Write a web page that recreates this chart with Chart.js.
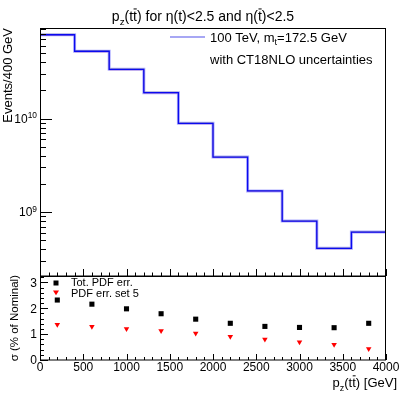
<!DOCTYPE html>
<html>
<head>
<meta charset="utf-8">
<title>pz(tt) for eta cuts</title>
<script src="https://cdn.jsdelivr.net/npm/chart.js@4.4.1/dist/chart.umd.min.js"></script>
<style>
  html, body { margin: 0; padding: 0; background: #fff; }
  #wrap { position: relative; width: 407px; height: 395px; overflow: hidden; }
  #top, #bot { position: absolute; left: 0; }
  #top { top: 0; }
  #bot { top: 270px; }
</style>
</head>
<body>
<div id="wrap">
  <canvas id="top" width="407" height="280"></canvas>
  <canvas id="bot" width="407" height="125"></canvas>
</div>
<script>
// ---- data ----
const binEdges = [0, 400, 800, 1200, 1600, 2000, 2400, 2800, 3200, 3600, 4000];
const binCenters = [200, 600, 1000, 1400, 1800, 2200, 2600, 3000, 3400, 3800];
// events / 400 GeV, nominal
const nominal = [7.87e10, 5.24e10, 3.36e10, 1.89e10, 8.89e9, 3.87e9, 1.68e9, 8.01e8, 4.09e8, 6.11e8];
// faint variation lines just above / below the nominal one
const upperVar = [7.99e10, 5.32e10, 3.41e10, 1.92e10, 9.02e9, 3.93e9, 1.70e9, 8.11e8, 4.14e8, 6.19e8];
const lowerVar = [7.74e10, 5.15e10, 3.31e10, 1.86e10, 8.77e9, 3.82e9, 1.66e9, 7.91e8, 4.04e8, 6.03e8];
// lower pad, % of nominal
const totPdfErr = [2.32, 2.16, 1.98, 1.79, 1.58, 1.42, 1.30, 1.26, 1.25, 1.42];
const pdfSet5Err = [1.37, 1.29, 1.21, 1.13, 1.03, 0.91, 0.80, 0.69, 0.60, 0.43];
// axes
const xTicks = [0, 500, 1000, 1500, 2000, 2500, 3000, 3500, 4000];
const logTicks = [1e9, 1e10];
const ratioTicks = [0, 1, 2, 3];

const FONT = '"Liberation Sans", Arial, Helvetica, sans-serif';

// ---- small helpers ----
function stepPoints(vals) {
    return binEdges.map((x, i) => ({ x: x, y: vals[Math.min(i, vals.length - 1)] }));
}

// text with sub/superscripts and overbars, ROOT-latex style
function drawRich(ctx, parts, x, y, size, align) {
    const fontOf = (p) => `${(p.sub || p.sup) ? size * 0.7 : size}px ${FONT}`;
    const items = parts.map((p) => (typeof p === 'string' ? { t: p } : p));
    let total = 0;
    items.forEach((p) => { ctx.font = fontOf(p); p.w = ctx.measureText(p.t).width; total += p.w; });
    let cx = align === 'center' ? x - total / 2 : align === 'right' ? x - total : x;
    ctx.textAlign = 'left';
    ctx.textBaseline = 'alphabetic';
    items.forEach((p) => {
        ctx.font = fontOf(p);
        const dy = p.sub ? size * 0.28 : p.sup ? -size * 0.38 : 0;
        ctx.fillText(p.t, cx, y + dy);
        if (p.bar) {
            ctx.beginPath();
            ctx.lineWidth = 1;
            ctx.moveTo(cx + 0.5, y - size * 0.86);
            ctx.lineTo(cx + p.w - 0.2, y - size * 0.86);
            ctx.stroke();
        }
        cx += p.w;
    });
}

function minorX() {
    const out = [];
    for (let i = 0; i < xTicks.length - 1; i++) {
        const step = (xTicks[i + 1] - xTicks[i]) / 5;
        for (let k = 1; k < 5; k++) out.push(xTicks[i] + k * step);
    }
    return out;
}

function hTick(ctx, px, y0, len) {
    ctx.beginPath();
    ctx.moveTo(Math.round(px) + 0.5, y0);
    ctx.lineTo(Math.round(px) + 0.5, y0 - len);
    ctx.stroke();
}
function vTick(ctx, py, x0, len) {
    ctx.beginPath();
    ctx.moveTo(x0, Math.round(py) + 0.5);
    ctx.lineTo(x0 + len, Math.round(py) + 0.5);
    ctx.stroke();
}

// ---- upper pad decorations ----
const topDecor = {
    id: 'topDecor',
    afterDraw(chart) {
        const { ctx, chartArea: a, scales: { x, y } } = chart;
        ctx.save();
        ctx.strokeStyle = '#000';
        ctx.fillStyle = '#000';
        ctx.lineWidth = 1;

        // frame
        ctx.strokeRect(a.left + 0.5, a.top + 0.5, a.right - a.left - 1, a.bottom - a.top - 0.5);

        // x ticks (no labels on this pad)
        const yb = a.bottom;
        xTicks.forEach((v) => hTick(ctx, x.getPixelForValue(v), yb, 7));
        minorX().forEach((v) => hTick(ctx, x.getPixelForValue(v), yb, 3.5));

        // log y ticks
        for (let e = 8; e <= 10; e++) {
            for (let m = 1; m <= 9; m++) {
                const v = m * Math.pow(10, e);
                if (v < y.min || v > y.max) continue;
                vTick(ctx, y.getPixelForValue(v), a.left, m === 1 ? 12 : 6);
            }
        }
        logTicks.forEach((v) => {
            const exp = String(Math.round(Math.log10(v)));
            drawRich(ctx, ['10', { t: exp, sup: true }], 37, y.getPixelForValue(v) + 4.3, 12, 'right');
        });

        // title
        drawRich(ctx, ['p', { t: 'z', sub: true }, '(t', { t: 't', bar: true },
            ') for \u03b7(t)<2.5 and \u03b7(', { t: 't', bar: true }, ')<2.5'], 203, 21, 14, 'center');

        // y title
        ctx.save();
        ctx.translate(12, 28);
        ctx.rotate(-Math.PI / 2);
        drawRich(ctx, ['Events/400 GeV'], 0, 0, 13, 'right');
        ctx.restore();

        // legend
        ctx.beginPath();
        ctx.strokeStyle = 'rgba(60, 60, 230, 0.45)';
        ctx.lineWidth = 2;
        ctx.moveTo(170, 37);
        ctx.lineTo(205, 37);
        ctx.stroke();
        ctx.strokeStyle = '#000';
        drawRich(ctx, ['100 TeV, m', { t: 't', sub: true }, '=172.5 GeV'], 210, 41.5, 13, 'left');
        drawRich(ctx, ['with CT18NLO uncertainties'], 210, 64, 13, 'left');

        ctx.restore();
    }
};

// ---- lower pad decorations ----
const botDecor = {
    id: 'botDecor',
    afterDraw(chart) {
        const { ctx, chartArea: a, scales: { x, y } } = chart;
        ctx.save();
        ctx.strokeStyle = '#000';
        ctx.fillStyle = '#000';
        ctx.lineWidth = 1;

        // frame
        ctx.strokeRect(a.left + 0.5, a.top + 0.5, a.right - a.left - 1, a.bottom - a.top - 0.5);

        // x ticks + labels
        xTicks.forEach((v) => hTick(ctx, x.getPixelForValue(v), a.bottom, 6));
        minorX().forEach((v) => hTick(ctx, x.getPixelForValue(v), a.bottom, 3));
        ctx.font = `12px ${FONT}`;
        ctx.textAlign = 'center';
        ctx.textBaseline = 'alphabetic';
        xTicks.forEach((v) => ctx.fillText(String(v), x.getPixelForValue(v), a.bottom + 10.5));

        // y ticks + labels
        for (let i = 0; i < ratioTicks.length; i++) {
            const v = ratioTicks[i];
            vTick(ctx, y.getPixelForValue(v), a.left, 8);
            for (let k = 1; k < 5; k++) {
                const mv = v + k * 0.2;
                if (mv <= y.max) vTick(ctx, y.getPixelForValue(mv), a.left, 4);
            }
        }
        ctx.font = `12px ${FONT}`;
        ctx.textAlign = 'right';
        ratioTicks.forEach((v) => ctx.fillText(String(v), 37, y.getPixelForValue(v) + 4.3));

        // y title
        ctx.save();
        ctx.translate(18, 5);
        ctx.rotate(-Math.PI / 2);
        drawRich(ctx, ['\u03c3 (% of Nominal)'], 0, 0, 11.5, 'right');
        ctx.restore();

        // x title
        drawRich(ctx, ['p', { t: 'z', sub: true }, '(t', { t: 't', bar: true }, ') [GeV]'], 397, a.bottom + 27, 13, 'right');

        // legend
        ctx.fillStyle = '#000';
        ctx.fillRect(53.5, 10.5, 5, 5);
        drawRich(ctx, ['Tot. PDF err.'], 71, 16, 11, 'left');
        ctx.fillStyle = '#f00';
        ctx.beginPath();
        ctx.moveTo(53, 20.5);
        ctx.lineTo(59, 20.5);
        ctx.lineTo(56, 25.3);
        ctx.closePath();
        ctx.fill();
        ctx.fillStyle = '#000';
        drawRich(ctx, ['PDF err. set 5'], 71, 26.7, 11, 'left');

        ctx.restore();
    }
};

// ---- upper pad: step histogram, log y ----
// Chart.js paints dataset 0 last (on top), so the dark nominal line comes first
new Chart(document.getElementById('top').getContext('2d'), {
    type: 'line',
    data: {
        datasets: [
            { data: stepPoints(nominal), borderColor: '#0a0af0', borderWidth: 1.3, stepped: 'before' },
            { data: stepPoints(nominal), borderColor: 'rgba(70, 70, 255, 0.45)', borderWidth: 3, stepped: 'before' },
            { data: stepPoints(lowerVar), borderColor: 'rgba(255, 40, 40, 0.3)', borderWidth: 1, stepped: 'before' },
            { data: stepPoints(upperVar), borderColor: 'rgba(225, 225, 0, 0.4)', borderWidth: 1, stepped: 'before' }
        ]
    },
    options: {
        responsive: false,
        animation: false,
        layout: { padding: { left: 40, right: 21, top: 28, bottom: 4 } },
        elements: { point: { radius: 0 }, line: { tension: 0 } },
        plugins: { legend: { display: false }, tooltip: { enabled: false } },
        scales: {
            x: { type: 'linear', min: 0, max: 4000, display: false },
            y: { type: 'logarithmic', min: 2.07e8, max: 9.29e10, display: false }
        }
    },
    plugins: [topDecor]
});

// ---- lower pad: uncertainties in % ----
new Chart(document.getElementById('bot').getContext('2d'), {
    type: 'scatter',
    data: {
        datasets: [
            {
                data: binCenters.map((x, i) => ({ x: x, y: totPdfErr[i] })),
                pointStyle: 'rect', pointRadius: 3.6, backgroundColor: '#000', borderWidth: 0
            },
            {
                data: binCenters.map((x, i) => ({ x: x, y: pdfSet5Err[i] })),
                pointStyle: 'triangle', pointRotation: 180, pointRadius: 3.2, backgroundColor: '#f00', borderWidth: 0
            }
        ]
    },
    options: {
        responsive: false,
        animation: false,
        layout: { padding: { left: 40, right: 21, top: 6, bottom: 35 } },
        plugins: { legend: { display: false }, tooltip: { enabled: false } },
        scales: {
            x: { type: 'linear', min: 0, max: 4000, display: false },
            y: { type: 'linear', min: 0, max: 3.25, display: false }
        }
    },
    plugins: [botDecor]
});
</script>
</body>
</html>
